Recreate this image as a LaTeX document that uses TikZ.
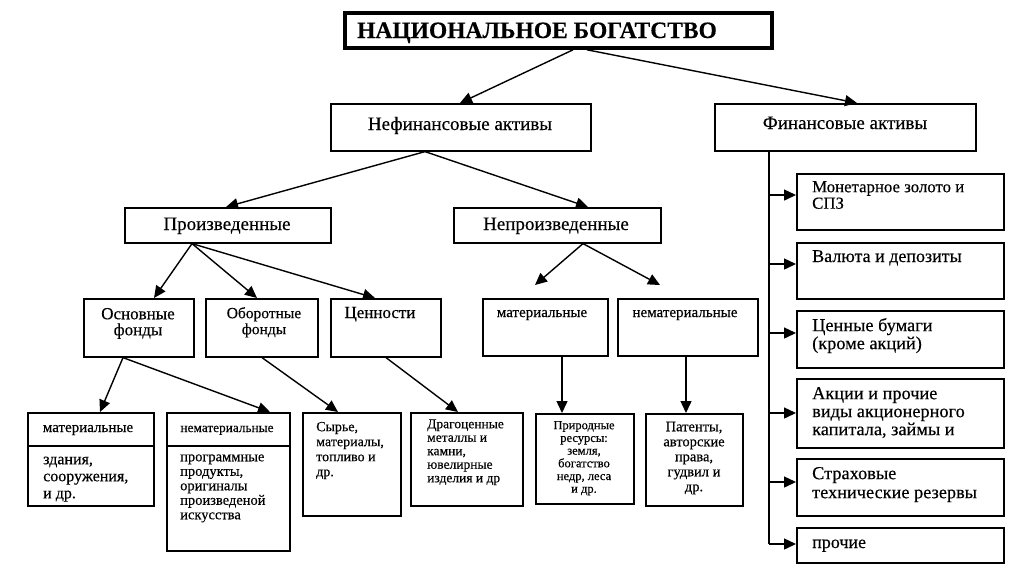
\documentclass[tikz,border=0pt]{standalone}
\usepackage{fontspec}
\setmainfont{Liberation Serif}[FakeBold=0.35]
\usetikzlibrary{arrows.meta}
\newcommand\fs[2]{\fontsize{#1}{#2}\selectfont}
\newcommand\bx[5]{\node[box,anchor=north west,minimum width={(#4-#2)*1pt},minimum height={(#5-#3)*1pt}] (#1) at (#2,#3) {};}
\newcommand\topr{\rule{0pt}{0.72em}}
\begin{document}
\begin{tikzpicture}[x=1pt,y=-1pt,
  box/.style={draw=black,line width=1.6pt,inner sep=0pt,fill=white},
  tx/.style={inner sep=0pt,text=black},
  arr/.style={line width=1.4pt,-{Triangle[length=12pt,width=11pt]}},
  ln/.style={line width=1.4pt}]
\useasboundingbox[fill=white] (0,0) rectangle (1024,574);
% boxes
\node[draw=black,line width=3.8pt,inner sep=0pt,anchor=north west,minimum width=427pt,minimum height=35pt] (title) at (343,11) {};
\bx{nef}{330}{103}{590}{150}
\bx{fin}{714}{103}{975}{150}
\bx{proizv}{124}{207}{330}{242}
\bx{neproizv}{453}{207}{660}{242}
\bx{osn}{83}{298}{193}{356}
\bx{obor}{205}{298}{317}{356}
\bx{cenn}{330}{298}{440}{356}
\bx{mat}{482}{298}{607}{355}
\bx{nemat}{617}{298}{757}{355}
\bx{bmat}{27}{412}{153}{505}
\bx{bnemat}{166}{412}{289}{550}
\bx{syr}{302}{412}{400}{515}
\bx{drag}{410}{412}{522}{505}
\bx{prir}{535}{413}{633}{503}
\bx{pat}{645}{413}{742}{505}
\bx{r1}{796}{173}{1003}{229}
\bx{r2}{796}{242}{1003}{298}
\bx{r3}{796}{310}{1003}{367}
\bx{r4}{796}{378}{1003}{447}
\bx{r5}{796}{458}{1003}{515}
\bx{r6}{796}{527}{1003}{562}
\draw[line width=1.6pt] (bmat.west |- 0,446) -- (bmat.east |- 0,446);
\draw[line width=1.6pt] (bnemat.west |- 0,446) -- (bnemat.east |- 0,446);
% texts
\node[tx,anchor=base,font=\bfseries\fs{23.5}{25}] (ttitle) at (537,38) {НАЦИОНАЛЬНОЕ БОГАТСТВО};
\node[tx,anchor=base,font=\fs{19}{20}] (tnef) at (460,130) {Нефинансовые активы};
\node[tx,anchor=base,font=\fs{19}{20}] (tfin) at (845,129) {Финансовые активы};
\node[tx,anchor=base,font=\fs{19}{20}] (tproizv) at (227,230) {Произведенные};
\node[tx,anchor=base,font=\fs{19}{20}] (tneproizv) at (556,230) {Непроизведенные};
\node[tx,anchor=north,align=center,font=\fs{17}{16}] (tosn) at (138,306.8) {\topr Основные\\фонды};
\node[tx,anchor=north,align=center,font=\fs{15.5}{16}] (tobor) at (264,306.8) {\topr Оборотные\\фонды};
\node[tx,anchor=base,font=\fs{17}{18}] (tcenn) at (380,318) {Ценности};
\node[tx,anchor=base,font=\fs{15}{16}] (tmat) at (542,317) {материальные};
\node[tx,anchor=base,font=\fs{15}{16}] (tnemat) at (685,317) {нематериальные};
\node[tx,anchor=base,font=\fs{15}{16}] (tbmat) at (88,432) {материальные};
\node[tx,anchor=base,font=\fs{13.3}{16}] (tbnemat) at (227,432) {нематериальные};
\node[tx,anchor=north west,align=left,font=\fs{16}{17}] (tbmatb) at (43,452.5) {\topr здания,\\сооружения,\\и др.};
\node[tx,anchor=north west,align=left,font=\fs{14.5}{14.5}] (tbnematb) at (180,450.6) {\topr программные\\продукты,\\оригиналы\\произведеной\\искусства};
\node[tx,anchor=north west,align=left,font=\fs{14}{15}] (tsyr) at (316,420.9) {\topr Сырье,\\материалы,\\топливо и\\др.};
\node[tx,anchor=north west,align=left,font=\fs{13.5}{13.5}] (tdrag) at (427,418.3) {\topr Драгоценные\\металлы и\\камни,\\ювелирные\\изделия и др};
\node[tx,anchor=north,align=center,font=\fs{12.5}{12.7}] (tprir) at (584,420) {\topr Природные\\ресурсы:\\земля,\\богатство\\недр, леса\\и др.};
\node[tx,anchor=north,align=center,font=\fs{14.5}{15}] (tpat) at (694,420.6) {\topr Патенты,\\авторские\\права,\\гудвил и\\др.};
\node[tx,anchor=north west,align=left,font=\fs{16.8}{16.5}] (tr1) at (812,179.9) {\topr Монетарное золото и\\СПЗ};
\node[tx,anchor=base west,font=\fs{18}{18}] (tr2) at (812,262) {Валюта и депозиты};
\node[tx,anchor=north west,align=left,font=\fs{18.3}{18}] (tr3) at (812,317.8) {\topr Ценные бумаги\\(кроме акций)};
\node[tx,anchor=north west,align=left,font=\fs{18.3}{18}] (tr4) at (812,385.8) {\topr Акции и прочие\\виды акционерного\\капитала, займы и};
\node[tx,anchor=north west,align=left,font=\fs{18.3}{19}] (tr5) at (812,465.8) {\topr Страховые\\технические резервы};
\node[tx,anchor=base west,font=\fs{18}{18}] (tr6) at (812,548) {прочие};
% connectors
\draw[arr] (title.south -| 573,0) -- (nef.north -| 460,0);
\draw[arr] (title.south -| 587,0) -- (fin.north -| 857,0);
\draw[arr] (nef.south -| 425,0) -- (proizv.north -| 226,0);
\draw[arr] (nef.south -| 425,0) -- (neproizv.north -| 588,0);
\draw[arr] (proizv.south -| 192,0) -- (osn.north -| 154,0);
\draw[arr] (proizv.south -| 192,0) -- (obor.north -| 257,0);
\draw[arr] (proizv.south -| 192,0) -- (cenn.north -| 375,0);
\coordinate (e1) at (535,285);
\coordinate (e2) at (660,285);
\draw[arr] (neproizv.south -| 583,0) -- (e1);
\draw[arr] (neproizv.south -| 583,0) -- (e2);
\draw[arr] (osn.south -| 123,0) -- (bmat.north -| 100,0);
\draw[arr] (osn.south -| 123,0) -- (bnemat.north -| 270,0);
\draw[arr] (obor.south -| 262,0) -- (syr.north -| 338,0);
\draw[arr] (cenn.south -| 386,0) -- (drag.north -| 458,0);
\draw[arr] (mat.south -| 562,0) -- (prir.north -| 562,0);
\draw[arr] (nemat.south -| 686,0) -- (pat.north -| 686,0);
\coordinate (trunk) at (769,544);
\draw[ln] (fin.south -| 769,0) -- (trunk);
\foreach \r/\yy in {r1/195,r2/264,r3/333,r4/413,r5/482,r6/544}{
  \draw[arr] (769,\yy) -- (\r.west |- 0,\yy);
}
\end{tikzpicture}
\end{document}
